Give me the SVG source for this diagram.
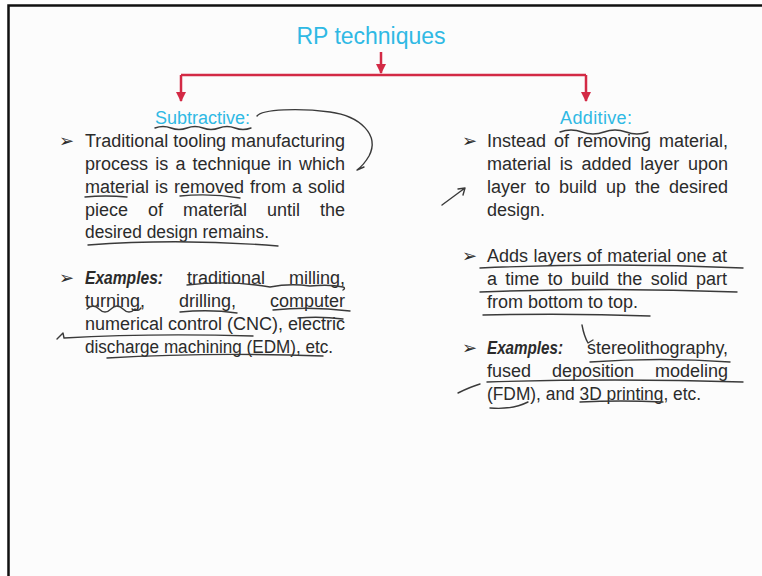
<svg xmlns="http://www.w3.org/2000/svg" width="762" height="576" viewBox="0 0 762 576">
<defs>
<style>
.t{font-family:"Liberation Sans",Arial,sans-serif;font-size:18px;fill:#2b2b2b}
.h{font-family:"Liberation Sans",Arial,sans-serif;fill:#2fb9e4}
.b{font-family:"DejaVu Sans",sans-serif;font-size:18px;fill:#2b2b2b}
.ex{font-weight:bold;font-style:italic}
.c{stroke:#d32a45;stroke-width:2.5;fill:none}
.pen{stroke:#3a3a3a;stroke-width:1.4;fill:none;stroke-linecap:round;stroke-linejoin:round}
</style>
<marker id="ah" viewBox="0 0 10 10" refX="9" refY="5" markerWidth="4" markerHeight="4" orient="auto">
<path d="M0,0 L10,5 L0,10 z" fill="#d32a45"/>
</marker>
</defs>
<rect x="0" y="0" width="762" height="576" fill="#ffffff"/>
<rect x="9" y="6" width="753" height="570" fill="#fcfcfc"/>
<path d="M8.5,576 V5.5 H762" stroke="#111" stroke-width="2.5" fill="none"/>

<g id="title">
<text class="h" x="371" y="44" font-size="23" text-anchor="middle" textLength="149">RP techniques</text>
</g>

<g id="connectors">
<path class="c" d="M381,52 V73" marker-end="url(#ah)"/>
<path class="c" d="M181,75 H586"/>
<path class="c" d="M181,75 V101" marker-end="url(#ah)"/>
<path class="c" d="M586,75 V101" marker-end="url(#ah)"/>
</g>

<g id="subtractive">
<text class="h" x="155" y="124" font-size="18" textLength="95">Subtractive:</text>
<text class="b" x="59" y="147">➢</text>
<text class="t" x="85" y="147" textLength="260">Traditional tooling manufacturing</text>
<text class="t" y="170"><tspan x="85">process</tspan><tspan x="155.2">is</tspan><tspan x="175.4">a</tspan><tspan x="192.6">technique</tspan><tspan x="277.8">in</tspan><tspan x="299">which</tspan></text>
<text class="t" y="193"><tspan x="85">material</tspan><tspan x="155">is</tspan><tspan x="174">removed</tspan><tspan x="250">from</tspan><tspan x="292">a</tspan><tspan x="308">solid</tspan></text>
<text class="t" y="216"><tspan x="85">piece</tspan><tspan x="148">of</tspan><tspan x="183">material</tspan><tspan x="267">until</tspan><tspan x="320">the</tspan></text>
<text class="t" x="85" y="238" textLength="184" lengthAdjust="spacingAndGlyphs">desired design remains.</text>
<text class="b" x="59" y="284">➢</text>
<text class="t ex" x="85" y="284" textLength="78" lengthAdjust="spacingAndGlyphs">Examples:</text>
<text class="t" y="284"><tspan x="187">traditional</tspan><tspan x="289">milling,</tspan></text>
<text class="t" y="307"><tspan x="85">turning,</tspan><tspan x="179">drilling,</tspan><tspan x="270">computer</tspan></text>
<text class="t" y="330"><tspan x="85">numerical</tspan><tspan x="168">control</tspan><tspan x="227">(CNC),</tspan><tspan x="288">electric</tspan></text>
<text class="t" x="85" y="353" textLength="248" lengthAdjust="spacingAndGlyphs">discharge machining (EDM), etc.</text>
</g>

<g id="additive">
<text class="h" x="560" y="124" font-size="18" textLength="72">Additive:</text>
<text class="b" x="462" y="147">➢</text>
<text class="t" y="147"><tspan x="487">Instead</tspan><tspan x="554">of</tspan><tspan x="577">removing</tspan><tspan x="659">material,</tspan></text>
<text class="t" y="170"><tspan x="487">material</tspan><tspan x="559.8">is</tspan><tspan x="581.5">added</tspan><tspan x="640.3">layer</tspan><tspan x="688">upon</tspan></text>
<text class="t" y="193"><tspan x="487">layer</tspan><tspan x="535">to</tspan><tspan x="559">build</tspan><tspan x="606">up</tspan><tspan x="635">the</tspan><tspan x="669">desired</tspan></text>
<text class="t" x="487" y="216">design.</text>
<text class="b" x="462" y="262">➢</text>
<text class="t" y="262"><tspan x="487">Adds</tspan><tspan x="533.4">layers</tspan><tspan x="586.8">of</tspan><tspan x="607.2">material</tspan><tspan x="676.6">one</tspan><tspan x="712">at</tspan></text>
<text class="t" y="285"><tspan x="487">a</tspan><tspan x="505.3">time</tspan><tspan x="547.7">to</tspan><tspan x="571">build</tspan><tspan x="617.3">the</tspan><tspan x="650.7">solid</tspan><tspan x="696">part</tspan></text>
<text class="t" x="487" y="308">from bottom to top.</text>
<text class="b" x="462" y="354">➢</text>
<text class="t ex" x="487" y="354" textLength="76" lengthAdjust="spacingAndGlyphs">Examples:</text>
<text class="t" x="587" y="354" textLength="141" lengthAdjust="spacingAndGlyphs">stereolithography,</text>
<text class="t" y="377"><tspan x="487">fused</tspan><tspan x="552">deposition</tspan><tspan x="655">modeling</tspan></text>
<text class="t" x="487" y="400" textLength="214" lengthAdjust="spacingAndGlyphs">(FDM), and 3D printing, etc.</text>
</g>

<g id="annotations" class="pen">
<path d="M155,128 q8,-3 16,0 t16,0 t16,0 t16,0 t16,0 t16,0"/>
<path d="M257,116 C262,109 300,108 330,112 C360,116 380,135 369,156 C365,163 361,167 357,170 L364,167"/>
<path d="M85,197 Q105,195 127,197"/>
<path d="M180,196 Q210,193 240,198"/>
<path d="M232,206 l6,-1"/>
<path d="M88,245 Q180,238 278,246"/>
<path d="M187,285 Q230,280 270,287 Q290,283 310,286 Q330,284 343,287 q3,1 0,3"/>
<path d="M87,309 q6,-6 12,0 t12,0 t12,0 t12,0 q3,3 6,-1"/>
<path d="M180,312 Q210,309 237,313"/>
<path d="M273,310 Q310,306 350,311"/>
<path d="M57,339 l6,-6 l1,5 Q150,333 253,336"/>
<path d="M298,318 Q320,316 343,319"/>
<path d="M107,358 Q210,352 323,356"/>
<path d="M560,132 q11,-4 22,0 t22,0 t22,0 t22,0"/>
<path d="M442,205 L465,188 M458,189 L465,188 L463,195"/>
<path d="M480,268 Q610,262 743,268"/>
<path d="M480,292 Q610,287 737,292"/>
<path d="M483,315 Q570,313 650,316"/>
<path d="M582,325 Q584,336 588,343 L593,340"/>
<path d="M590,362 Q660,357 730,362"/>
<path d="M487,382 Q615,378 743,382"/>
<path d="M458,393 Q470,387 480,384"/>
<path d="M490,408 Q512,410 528,402"/>
<path d="M580,402 Q620,400 663,402"/>
</g>
</svg>
